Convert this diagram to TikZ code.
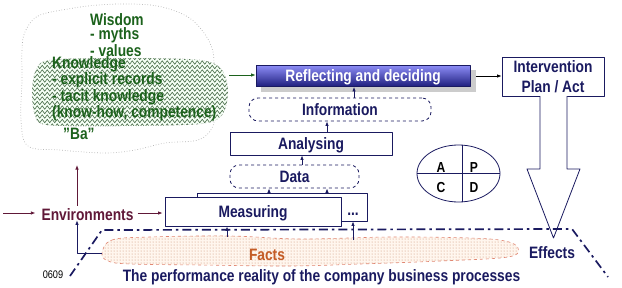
\documentclass[tikz,border=0pt]{standalone}
\usepackage{fontspec}
\setmainfont{Liberation Sans}[FakeStretch=0.835]
\usetikzlibrary{arrows.meta,patterns,decorations.pathmorphing,shapes.geometric}

\definecolor{navyblue}{RGB}{26,26,96}
\definecolor{envred}{RGB}{96,24,56}
\definecolor{wisgreen}{RGB}{28,98,28}
\definecolor{zzgreen}{RGB}{70,105,70}
\definecolor{factorange}{RGB}{196,92,38}
\definecolor{factdot}{RGB}{200,140,110}
\definecolor{factline}{RGB}{225,135,115}
\definecolor{factbg}{RGB}{255,246,238}
\definecolor{refltop}{RGB}{140,140,245}
\definecolor{reflmid}{RGB}{80,80,215}
\definecolor{reflbot}{RGB}{30,30,125}

\begin{document}
\begin{tikzpicture}[x=1pt, y=-1pt, line join=round,
  lbl/.style={inner sep=0pt, text=navyblue, font=\bfseries\fontsize{16.5}{20}\selectfont},
  cloudtxt/.style={lbl, text=wisgreen, align=left, anchor=base west, font=\bfseries\fontsize{16.5}{#1}\selectfont},
  cloudtxt/.default=15,
  boxline/.style={draw=navyblue, line width=0.8pt, fill=white},
  stage/.style={lbl, boxline, text height=11.8pt, text depth=0pt},
  dstage/.style={stage, dashed, rounded corners=9pt},
  arr/.style={-{Latex[length=4.5pt,width=3.5pt]}, line width=0.8pt, navyblue},
  zzline/.style={zzgreen, line width=0.6pt, decorate, decoration={zigzag, segment length=5pt, amplitude=1.8pt}}]

  %% ════ 云（"Ba"）════
  \draw[gray!60, dotted, line width=0.7pt] plot[smooth cycle, tension=0.6] coordinates {(25,32) (38,16) (68,9) (98,5) (133,4) (162,7) (188,17) (204,33) (213,52) (214,80) (215,110) (212,128) (198,140) (165,143) (135,150) (105,153) (60,150) (28,146) (21,120) (22,80) (22,50)};

  %% ════ Knowledge 区：锯齿纹 ════
  \begin{scope}
    \clip plot[smooth cycle] coordinates {(50,60) (120,58) (200,60) (222,70) (228,92) (222,115) (200,124) (120,126) (47,125) (35,115) (32,92) (36,70)};
    \fill[green!4] (20,50) rectangle (235,130);
    \foreach \yy in {58,62.5,...,128} \draw[zzline] (26,\yy) -- (234,\yy);
  \end{scope}
  \draw[gray!70, dotted] plot[smooth cycle] coordinates {(50,60) (120,58) (200,60) (222,70) (228,92) (222,115) (200,124) (120,126) (47,125) (35,115) (32,92) (36,70)};

  %% ════ Facts 区：点纹 ════
  \draw[factline, dashed, line width=0.6pt, preaction={fill=factbg}, pattern=dots, pattern color=factdot] plot[smooth cycle, tension=0.6] coordinates {(102,253) (112,240) (150,237) (230,236) (300,239) (390,237) (470,238) (505,241) (518,248) (508,257) (440,261) (360,264) (290,266) (200,265) (130,264) (108,261)};

  %% ════ 云内文字（base = 末行基线）════
  \node[cloudtxt=14.5] (wis)  at (90,56)    {Wisdom\\- myths\\- values};
  \node[cloudtxt]      (know) at (52,117.5) {Knowledge\\- explicit records\\- tacit knowledge\\(know-how, competence)};
  \node[cloudtxt]      (ba)   at (63,139)   {''Ba''};

  %% ════ 阶梯框 ════
  \fill[gray!40] (261,70) rectangle (476,92);   % 阴影
  \node[stage, text=white, minimum width=214pt, minimum height=21pt, top color=refltop, middle color=reflmid, bottom color=reflbot] (refl) at (363,76) {Reflecting and deciding};
  \node[lbl, boxline, align=center, minimum width=102pt, minimum height=39pt] (interv) at (553,76.5) {Intervention\\Plan / Act};
  \node[dstage, minimum width=182pt, minimum height=23pt] (info) at (340,109.5) {Information};
  \node[stage,  minimum width=162pt, minimum height=23pt] (ana)  at (311,143.5) {Analysing};
  \node[dstage, minimum width=129pt, minimum height=23pt] (data) at (294.5,176.5) {Data};
  \node[stage,  minimum width=170pt, minimum height=28pt] (back) at (282,207) {};
  \node[stage,  minimum width=176pt, minimum height=29pt] (meas) at (253,211.5) {Measuring};
  \node[lbl, anchor=base] (more) at (353,215) {...};

  %% ════ PDCA 椭圆 ════
  \node[draw=navyblue, line width=0.8pt, ellipse, minimum width=83pt, minimum height=57pt, inner sep=0pt] (pdca) at (458.5,173.5) {};
  \draw[navyblue, line width=0.8pt] (pdca.west) -- (pdca.east);
  \draw[navyblue, line width=0.8pt] ([xshift=3.5pt]pdca.north) -- ([xshift=3.5pt]pdca.south);
  \node[lbl, text=black, font=\bfseries\fontsize{14.5}{15}\selectfont, anchor=base] (pa) at (441,172)   {A};
  \node[lbl, text=black, font=\bfseries\fontsize{14.5}{15}\selectfont, anchor=base] (pp) at (474,172)   {P};
  \node[lbl, text=black, font=\bfseries\fontsize{14.5}{15}\selectfont, anchor=base] (pc) at (441,192.5) {C};
  \node[lbl, text=black, font=\bfseries\fontsize{14.5}{15}\selectfont, anchor=base] (pd) at (474,192.5) {D};

  %% ════ 空心大箭头 ════
  \coordinate (tip) at (553.5,238);
  \draw[navyblue, line width=0.8pt, fill=white] (540,96) -- (540,169) -- (527,169) -- (tip) -- (580,169) -- (567,169) -- (567,96);

  %% ════ 点划线（现实边界）════
  \draw[navyblue, line width=1.7pt, dash pattern=on 9pt off 4pt on 2.5pt off 4pt] (70,276) -- (102,230) -- (572,229) -- (608,277);

  %% ════ 底部文字 ════
  \node[lbl, text=envred, anchor=base] (env) at (87.5,220) {Environments};
  \node[lbl, text=factorange, anchor=base] (facts) at (267,260) {Facts};
  \node[lbl, anchor=base] (eff)  at (552,258)   {Effects};
  \node[lbl, anchor=base] (perf) at (321.5,281) {The performance reality of the company business processes};
  \node[inner sep=0pt, anchor=base, font=\fontsize{11}{12}\selectfont] (code) at (53,278) {0609};

  %% ════ 连线 ════
  \coordinate (cloudB) at (77,165);
  \coordinate (inL) at (3,213);
  \coordinate (fw) at (102,253);
  \coordinate (ft1) at (227,237);
  \coordinate (ft2) at (353,240);
  \coordinate (kr) at (229,75);

  \draw[arr, envred] (inL) -- (inL -| env.west) [shorten >=6pt];
  \draw[arr, envred, shorten <=4pt, shorten >=2pt] (inL -| env.east) -- (inL -| meas.west);
  \draw[arr, envred] ([yshift=2pt]env.north -| cloudB) -- (cloudB);
  \draw[arr] (fw) -| (cloudB |- env.south);
  \draw[arr] (ft1) -- (ft1 |- meas.south);
  \draw[arr] (ft2) -- (ft2 |- back.south);
  \draw[arr] ([xshift=-25.5pt]data.south |- back.north) -- ([xshift=-25.5pt]data.south);
  \draw[arr] ([xshift=32.5pt]data.south |- back.north) -- ([xshift=32.5pt]data.south);
  \draw[arr] ([xshift=7.5pt]data.north) -- ([xshift=7.5pt]data.north |- ana.south);
  \draw[arr] ([xshift=16pt]ana.north) -- ([xshift=16pt]ana.north |- info.south);
  \draw[arr] ([xshift=14pt]info.north) -- ([xshift=14pt]info.north |- refl.south);
  \draw[arr, wisgreen] (kr) -- (kr -| refl.west);
  \draw[arr, black] ([xshift=6pt]refl.east) -- (refl.east -| interv.west);

  % 钉死画布
  \pgfresetboundingbox
  \path[use as bounding box] (0,0) rectangle (622,287);
\end{tikzpicture}
\end{document}
